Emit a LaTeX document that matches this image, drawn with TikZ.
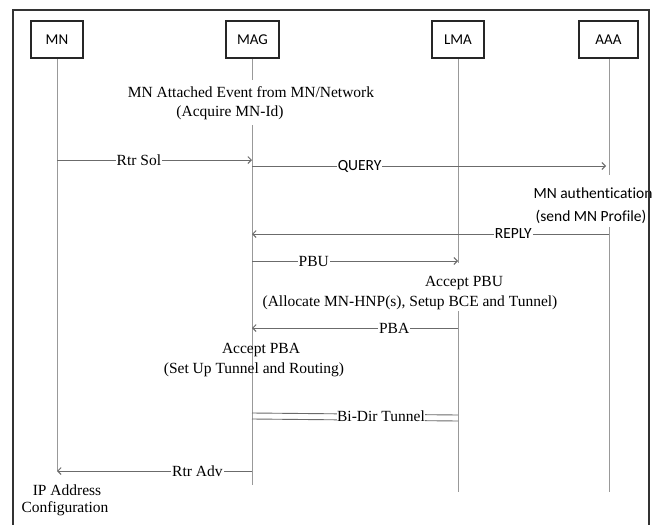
\documentclass[tikz,border=0pt]{standalone}
\usepackage{fontspec}
\setmainfont{Liberation Serif}
\newfontfamily\calfont[Ligatures=NoCommon]{Carlito}
\usetikzlibrary{arrows.meta}
\begin{document}
\begin{tikzpicture}[x=1pt,y=-1pt,
 actor/.style={draw=black!85,line width=1.5pt,minimum height=37pt,font=\calfont\fontsize{15}{18}\selectfont,inner sep=0pt},
 life/.style={draw=black!40,line width=0.9pt},
 msg/.style={draw=black!58,line width=0.9pt,-{Straight Barb[length=3.5pt,width=7pt]}},
 lbl/.style={fill=white,inner sep=1pt,font=\fontsize{15.5}{18}\selectfont},
 slbl/.style={fill=white,inner sep=1pt,font=\calfont\fontsize{15.5}{18}\selectfont},
 note/.style={font=\fontsize{15.5}{20}\selectfont,inner sep=0pt,align=center},
 snote/.style={font=\calfont\fontsize{15.5}{20}\selectfont,inner sep=0pt,align=center},
]
\useasboundingbox (0,0) rectangle (662,525);
\fill[white] (0,0) rectangle (662,525);

% actors
\node[actor,minimum width=52pt] (mn)  at (57,39.5)  {MN};
\node[actor,minimum width=53pt] (mag) at (252.5,39.5) {MAG};
\node[actor,minimum width=52pt] (lma) at (458,39.5) {LMA};
\node[actor,minimum width=59pt] (aaa) at (608.5,39.5) {AAA};

% lifeline points
\coordinate (mnE)  at (57,471);
\coordinate (magA) at (252,80);
\coordinate (magB) at (252,125);
\coordinate (magE) at (252,485);
\coordinate (lmaA) at (458,263);
\coordinate (lmaB) at (458,311);
\coordinate (lmaE) at (458,492);
\coordinate (aaaA) at (609,175);
\coordinate (aaaB) at (609,227);
\coordinate (aaaE) at (609,492);

\draw[life] (mn.south) -- (mnE);
\draw[life] (mag.south -| magA) -- (magA);
\draw[life] (magB) -- (magE);
\draw[life] (lma.south) -- (lmaA);
\draw[life] (lmaB) -- (lmaE);
\draw[life] (aaa.south -| aaaA) -- (aaaA);
\draw[life] (aaaB) -- (aaaE);

% notes
\node[note] (attach) at (251,92) {MN Attached Event from MN/Network};
\node[note] (acq) at (230,113) {(Acquire MN-Id)};
\node[snote] (auth) at (593,193) {MN authentication};
\node[snote] (prof) at (591,217) {(send MN Profile)};
\node[note] (apbu) at (464,283) {Accept PBU};
\node[note] (alloc) at (410,303) {(Allocate MN-HNP(s), Setup BCE and Tunnel)};
\node[note] (apba) at (261,350) {Accept PBA};
\node[note] (setup) at (254,370) {(Set Up Tunnel and Routing)};
\node[note] (ipa) at (67,490) {IP Address};
\node[note] (conf) at (65,509) {Configuration};

% message end points
\coordinate (rsA) at (57,160);  \coordinate (rsB) at (252,160);
\coordinate (qA) at (252,166);  \coordinate (qB) at (606,166);
\coordinate (rpA) at (609,234); \coordinate (rpB) at (252,234);
\coordinate (pbuA) at (252,261); \coordinate (pbuB) at (458,261);
\coordinate (pbaA) at (458,328); \coordinate (pbaB) at (252,328);
\coordinate (t1A) at (252,413); \coordinate (t1B) at (458,415);
\coordinate (t2A) at (252,419); \coordinate (t2B) at (458,421);
\coordinate (raA) at (252,471); \coordinate (raB) at (57,471);

\draw[msg] (rsA) -- (rsB) node[lbl,pos=0.42] (rslbl) {Rtr Sol};
\draw[msg] (qA) -- (qB) node[slbl,pos=0.304] (qlbl) {QUERY};
\draw[msg] (rpA) -- (rpB) node[slbl,pos=0.268] (rplbl) {REPLY};
\draw[msg] (pbuA) -- (pbuB) node[lbl,pos=0.30] (pbulbl) {PBU};
\draw[msg] (pbaA) -- (pbaB) node[lbl,pos=0.31] (pbalbl) {PBA};
\draw[draw=black!58,line width=0.9pt] (t1A) -- (t1B);
\draw[draw=black!58,line width=0.9pt] (t2A) -- (t2B);
\node[lbl,inner sep=0.5pt] (tun) at (381,416) {Bi-Dir Tunnel};
\draw[msg] (raA) -- (raB) node[lbl,pos=0.28] (ralbl) {Rtr Adv};

% frame
\draw[draw=black!80,line width=2pt] (13,10) rectangle (649,540);
\end{tikzpicture}
\end{document}
